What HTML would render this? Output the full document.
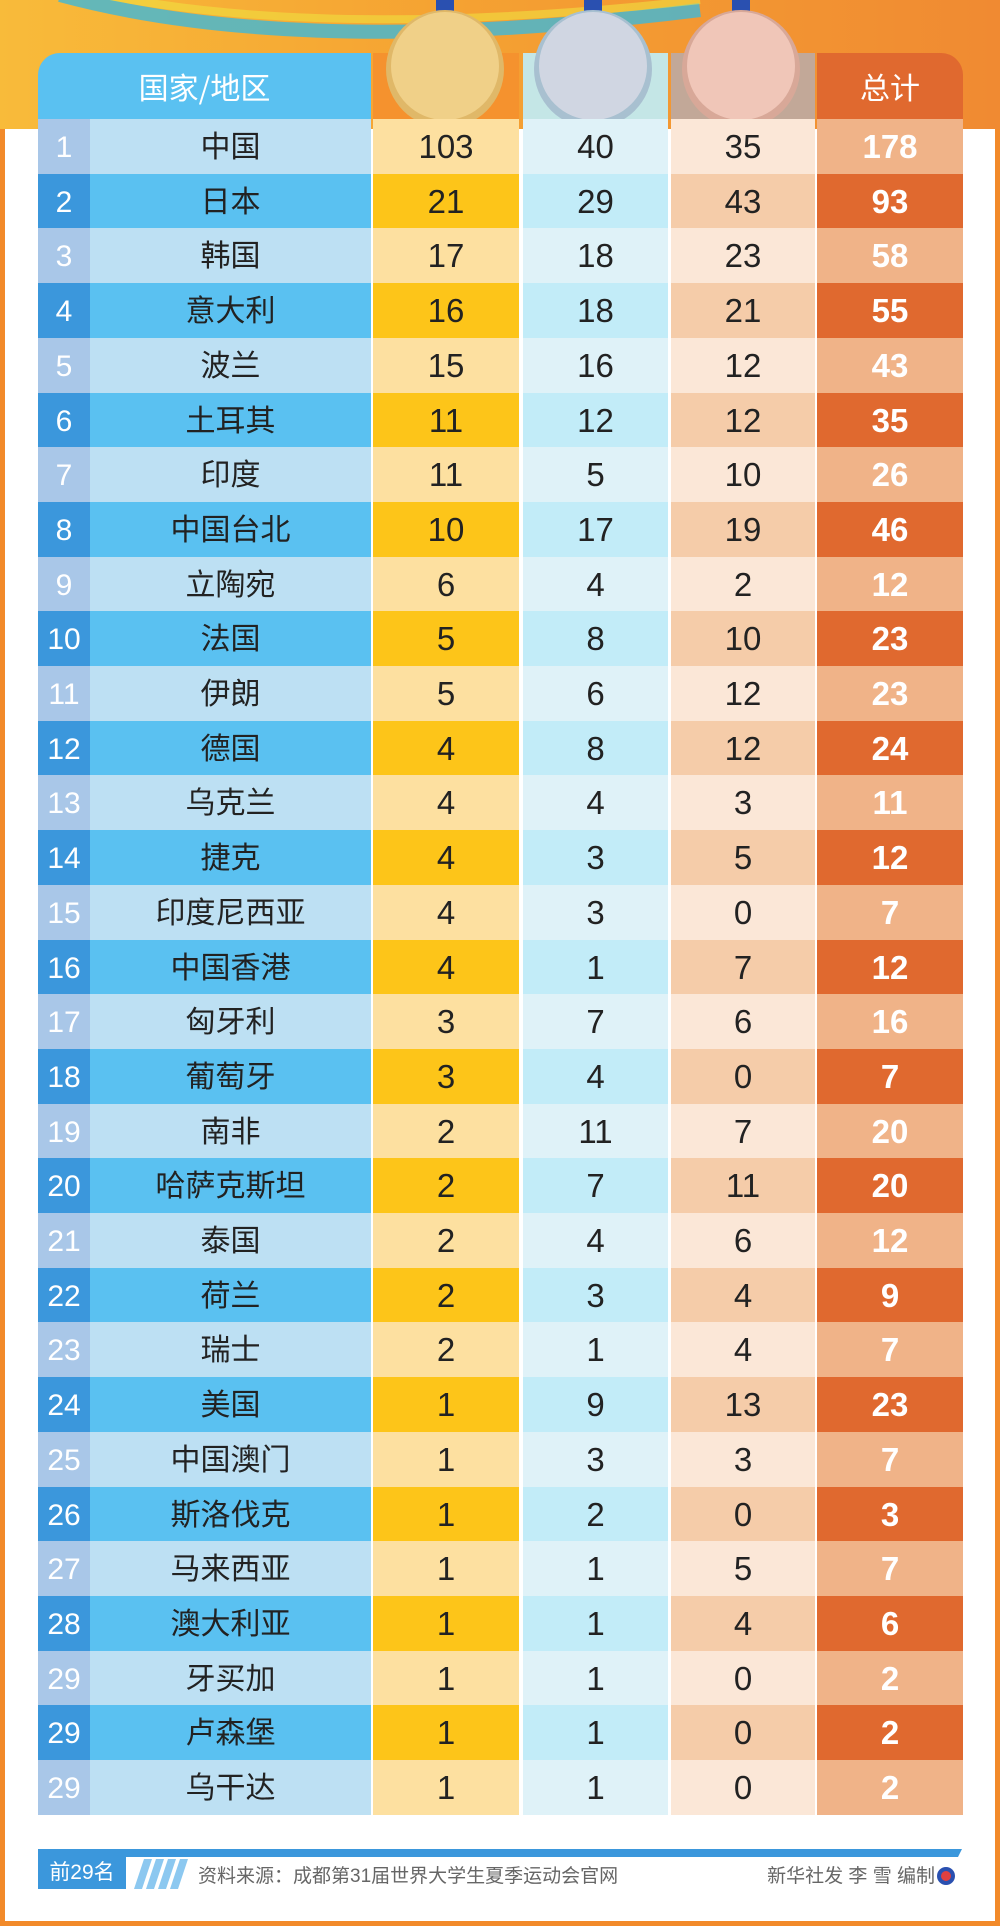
<!DOCTYPE html>
<html><head><meta charset="utf-8"><style>
*{margin:0;padding:0;box-sizing:border-box}
body{width:1000px;height:1926px;position:relative;overflow:hidden;background:#fff;font-family:"Liberation Sans","Noto Sans CJK SC",sans-serif}
.top{position:absolute;left:0;top:0;width:1000px;height:129px;background:linear-gradient(90deg,#f8bb3a,#f5a232 45%,#f08a32)}
.frame{position:absolute;left:0;top:129px;width:1000px;height:1797px;border:5px solid #f28a2a;border-top:none}
.row{position:absolute;left:38px;height:55px;display:flex}
.row div{height:55px;line-height:55px;text-align:center;font-size:33px;color:#222;overflow:hidden}
.c0{width:52px;color:#fff!important;font-size:30px!important;line-height:58px!important}
.c1{width:281px;margin-right:2px;font-size:30px!important;font-family:"Noto Sans CJK SC",sans-serif;line-height:51px!important}
.c2{width:146px;margin-right:4px}
.c3{width:145px;margin-right:3px}
.c4{width:144px;margin-right:2px}
.c5{width:146px;color:#fff!important;font-weight:bold}
.l .c0{background:#a9c7e8}.l .c1{background:#bde0f3}.l .c2{background:#fde0a0}.l .c3{background:#dff2f8}.l .c4{background:#fbe7d7}.l .c5{background:#f0b388}
.d .c0{background:#3b97dc}.d .c1{background:#5ac1f1}.d .c2{background:#fdc519}.d .c3{background:#c2ecf8}.d .c4{background:#f5cca9}.d .c5{background:#e0692f}
.h{position:absolute;top:53px;height:66px;line-height:66px;text-align:center;color:#fff;font-size:30px;font-family:"Noto Sans CJK SC",sans-serif}
</style></head><body>
<div class="top"></div>
<svg style="position:absolute;left:0;top:0" width="1000" height="130">
<path d="M60,-5 Q300,60 700,10" stroke="#3fb8d8" stroke-width="14" fill="none" opacity=".8"/>
<path d="M60,-15 Q300,45 700,0" stroke="#f0e040" stroke-width="8" fill="none" opacity=".6"/>
</svg>
<div class="frame"></div>
<div class="h" style="left:38px;width:333px;background:#5ac1f1;border-top-left-radius:22px">国家/地区</div>
<div class="h" style="left:373px;width:146px;background:#f5922e"></div>
<div class="h" style="left:523px;width:145px;background:#c4e6e6"></div>
<div class="h" style="left:671px;width:144px;background:#c2a898"></div>
<div class="h" style="left:817px;width:146px;background:#e0692f;border-top-right-radius:22px">总计</div>
<svg style="position:absolute;left:0;top:0" width="1000" height="130">
<rect x="436" y="0" width="18" height="14" fill="#2a50b0"/><rect x="584" y="0" width="18" height="14" fill="#2a50b0"/><rect x="732" y="0" width="18" height="14" fill="#2a50b0"/>
<circle cx="445" cy="69" r="59" fill="#e0b868"/><circle cx="445" cy="66" r="54" fill="#f0d088"/>
<circle cx="593" cy="69" r="59" fill="#a8c0d0"/><circle cx="593" cy="66" r="54" fill="#d0d6e2"/>
<circle cx="741" cy="69" r="59" fill="#d8a898"/><circle cx="741" cy="66" r="54" fill="#f0c6b8"/>
</svg>
<div id="t"></div>
<script>
var d=[["1","中国",103,40,35,178],["2","日本",21,29,43,93],["3","韩国",17,18,23,58],["4","意大利",16,18,21,55],["5","波兰",15,16,12,43],["6","土耳其",11,12,12,35],["7","印度",11,5,10,26],["8","中国台北",10,17,19,46],["9","立陶宛",6,4,2,12],["10","法国",5,8,10,23],["11","伊朗",5,6,12,23],["12","德国",4,8,12,24],["13","乌克兰",4,4,3,11],["14","捷克",4,3,5,12],["15","印度尼西亚",4,3,0,7],["16","中国香港",4,1,7,12],["17","匈牙利",3,7,6,16],["18","葡萄牙",3,4,0,7],["19","南非",2,11,7,20],["20","哈萨克斯坦",2,7,11,20],["21","泰国",2,4,6,12],["22","荷兰",2,3,4,9],["23","瑞士",2,1,4,7],["24","美国",1,9,13,23],["25","中国澳门",1,3,3,7],["26","斯洛伐克",1,2,0,3],["27","马来西亚",1,1,5,7],["28","澳大利亚",1,1,4,6],["29","牙买加",1,1,0,2],["29","卢森堡",1,1,0,2],["29","乌干达",1,1,0,2]];
var h="";d.forEach(function(r,i){h+='<div class="row '+(i%2?'d':'l')+'" style="top:'+(119+i*54.7).toFixed(1)+'px">';for(var j=0;j<6;j++)h+='<div class="c'+j+'">'+r[j]+'</div>';h+='</div>'});
document.getElementById('t').innerHTML=h;
</script>
<svg style="position:absolute;left:0;top:1845px" width="1000" height="50">
<polygon points="38,4 962,4 958,12 38,12" fill="#3b97dc"/>
<rect x="38" y="12" width="88" height="32" fill="#3b97dc"/>
<g fill="#8cc8f0"><polygon points="134,44 142,44 152,14 144,14"/><polygon points="146,44 154,44 164,14 156,14"/><polygon points="158,44 166,44 176,14 168,14"/><polygon points="170,44 178,44 188,14 180,14"/></g>
<circle cx="946" cy="31" r="9" fill="#2a50b0"/><circle cx="946" cy="31" r="5" fill="#e04040"/>
</svg>
<div style="position:absolute;left:38px;top:1857px;width:88px;height:32px;color:#fff;font-size:21px;line-height:32px;text-align:center">前29名</div>
<div style="position:absolute;left:198px;top:1861px;color:#666;font-size:19px">资料来源：成都第31届世界大学生夏季运动会官网</div>
<div style="position:absolute;right:65px;top:1861px;color:#666;font-size:19px">新华社发 李 雪 编制</div>
</body></html>
